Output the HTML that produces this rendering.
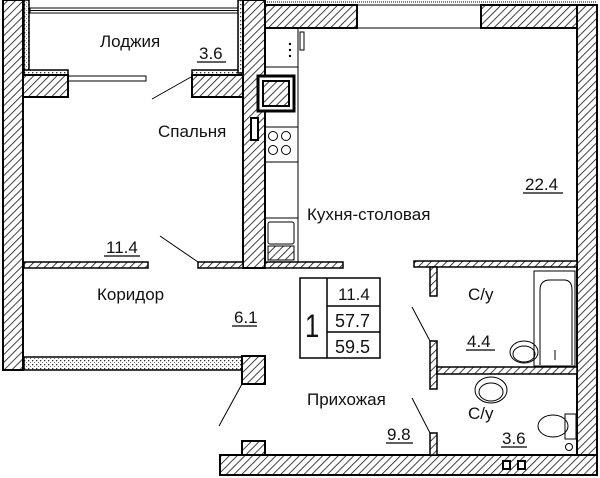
<!DOCTYPE html>
<html><head><meta charset="utf-8"><style>
html,body{margin:0;padding:0;background:#fff}
svg{display:block}
text{font-family:"Liberation Sans Narrow","Liberation Sans",sans-serif;font-size:17px;fill:#111}
</style></head><body>
<svg width="600" height="478" viewBox="0 0 600 478" xmlns="http://www.w3.org/2000/svg">
<defs>
<pattern id="h" width="5.5" height="5.5" patternUnits="userSpaceOnUse" patternTransform="rotate(45)">
<rect width="6" height="6" fill="#fff"/><line x1="0" y1="0" x2="0" y2="6" stroke="#111" stroke-width="1.6"/>
</pattern>
<pattern id="d" width="4" height="4" patternUnits="userSpaceOnUse">
<rect width="4" height="4" fill="#fff"/><rect x="0" y="0" width="1.3" height="1.3" fill="#333"/><rect x="2" y="2" width="1" height="1" fill="#777"/>
</pattern>
</defs>
<g stroke="#000" stroke-width="2">
<rect x="3" y="0" width="20" height="370" fill="url(#h)"/>
<rect x="24" y="0" width="5" height="73" fill="url(#d)" stroke-width="1.5"/>
<rect x="24" y="70" width="44" height="5" fill="url(#d)" stroke-width="1.5"/>
<rect x="192" y="70" width="50" height="5" fill="url(#d)" stroke-width="1.5"/>
<rect x="238" y="0" width="5" height="73" fill="url(#d)" stroke-width="1.5"/>
<rect x="23" y="75" width="45" height="22" fill="url(#h)"/>
<rect x="192" y="75" width="51" height="22" fill="url(#h)"/>
<rect x="243" y="0" width="22" height="268" fill="url(#h)"/>
<rect x="265" y="5" width="92" height="23" fill="url(#h)"/>
<rect x="481" y="5" width="116" height="23" fill="url(#h)"/>
<rect x="577" y="5" width="20" height="470" fill="url(#h)"/>
<rect x="220" y="455" width="377" height="20" fill="url(#h)"/>
<rect x="242" y="441" width="23" height="14" fill="url(#h)"/>
<rect x="24" y="262" width="124" height="6" fill="url(#h)" stroke-width="1.5"/>
<rect x="198" y="262" width="45" height="6" fill="url(#h)" stroke-width="1.5"/>
<rect x="265" y="262" width="78" height="6" fill="url(#h)" stroke-width="1.5"/>
<rect x="414" y="261" width="163" height="6" fill="url(#h)" stroke-width="1.5"/>
<rect x="430" y="267" width="7" height="29" fill="url(#h)" stroke-width="1.5"/>
<rect x="430" y="341" width="7" height="48" fill="url(#h)" stroke-width="1.5"/>
<rect x="437" y="367" width="140" height="7" fill="url(#h)" stroke-width="1.5"/>
<rect x="430" y="433" width="7" height="22" fill="url(#h)" stroke-width="1.5"/>
<rect x="24" y="357" width="218" height="13" fill="url(#d)" stroke-width="1.5"/>
<rect x="242" y="356" width="23" height="28" fill="url(#h)"/>
<rect x="258" y="76" width="36" height="35" fill="#fff" stroke-width="3"/>
<rect x="263" y="81" width="26" height="25" fill="url(#h)" stroke-width="2"/>
<rect x="251" y="118" width="7" height="22" fill="#fff" stroke-width="2"/>
</g>
<g fill="none" stroke="#000" stroke-width="1">
<rect x="30" y="8" width="208" height="5"/>
<line x1="30" y1="10.5" x2="238" y2="10.5"/>
<rect x="68" y="76" width="78" height="5"/>
<line x1="357" y1="5" x2="481" y2="5"/>
<line x1="357" y1="28" x2="481" y2="28"/>
<line x1="263" y1="2" x2="597" y2="2" stroke-dasharray="1 1"/>
<line x1="298" y1="28" x2="298" y2="262"/>
<line x1="265" y1="67" x2="298" y2="67"/>
<line x1="265" y1="127" x2="298" y2="127"/>
<line x1="265" y1="162" x2="298" y2="162"/>
<line x1="265" y1="218" x2="298" y2="218"/>
<rect x="300" y="32" width="4" height="18"/>
<circle cx="273" cy="136" r="4.5"/><circle cx="286" cy="136" r="4.5"/>
<circle cx="273" cy="150" r="4.5"/><circle cx="286" cy="150" r="4.5"/>
<rect x="268" y="222" width="26" height="22" rx="2"/>
<rect x="268" y="246" width="26" height="14" fill="url(#h)"/>
<line x1="152" y1="99" x2="191" y2="77"/>
<line x1="160" y1="236" x2="198" y2="262"/>
<line x1="242" y1="384" x2="219" y2="426"/>
<line x1="412" y1="307" x2="430" y2="341"/>
<line x1="412" y1="398" x2="430" y2="433"/>
<rect x="534" y="271" width="41" height="95"/>
<path d="M540 365 V290 Q540 280 550 280 H564 Q572 280 572 290 V365"/>
<ellipse cx="524" cy="352" rx="14" ry="11"/><ellipse cx="524" cy="354" rx="11" ry="8"/>
<ellipse cx="491" cy="390" rx="16" ry="13"/><ellipse cx="491" cy="392" rx="12" ry="9"/>
<ellipse cx="553" cy="426" rx="15" ry="11"/>
<rect x="565" y="414" width="11" height="25"/>
<circle cx="569" cy="447" r="3.5"/>
<line x1="555" y1="350" x2="555" y2="360"/>
<rect x="300" y="278" width="80" height="80" stroke-width="1.5"/>
<line x1="327" y1="278" x2="327" y2="358" stroke-width="1.5"/>
<line x1="327" y1="306" x2="380" y2="306" stroke-width="1.5"/>
<line x1="327" y1="332" x2="380" y2="332" stroke-width="1.5"/>
</g>
<g fill="#fff" stroke="#000" stroke-width="2">
<rect x="503" y="461" width="7" height="8"/><rect x="518" y="461" width="7" height="8"/>
</g>
<g fill="#000"><circle cx="290" cy="44" r="1.2"/><circle cx="290" cy="50" r="1.2"/><circle cx="290" cy="56" r="1.2"/></g>
<g stroke="#000" stroke-width="1.3">
<line x1="197" y1="62" x2="226" y2="62"/>
<line x1="104" y1="256" x2="140" y2="256"/>
<line x1="523" y1="193" x2="563" y2="193"/>
<line x1="232" y1="326" x2="257" y2="326"/>
<line x1="466" y1="350" x2="495" y2="350"/>
<line x1="386" y1="443" x2="413" y2="443"/>
<line x1="501" y1="447" x2="527" y2="447"/>
</g>
<text x="100" y="47">Лоджия</text>
<text x="199" y="59">3.6</text>
<text x="158" y="137">Спальня</text>
<text x="106" y="253">11.4</text>
<text x="307" y="220">Кухня-столовая</text>
<text x="525" y="190">22.4</text>
<text x="97" y="300">Коридор</text>
<text x="234" y="323">6.1</text>
<text x="468" y="300">С/у</text>
<text x="467" y="347">4.4</text>
<text x="307" y="405">Прихожая</text>
<text x="387" y="440">9.8</text>
<text x="468" y="419">С/у</text>
<text x="502" y="444">3.6</text>
<text x="338" y="300">11.4</text>
<text x="335" y="327" style="font-size:18px">57.7</text>
<text x="335" y="353" style="font-size:18px">59.5</text>
<text x="305" y="337" style="font-size:32px;font-weight:100" transform="translate(305 337) scale(0.8 1) translate(-305 -337)">1</text>
</svg>
</body></html>
